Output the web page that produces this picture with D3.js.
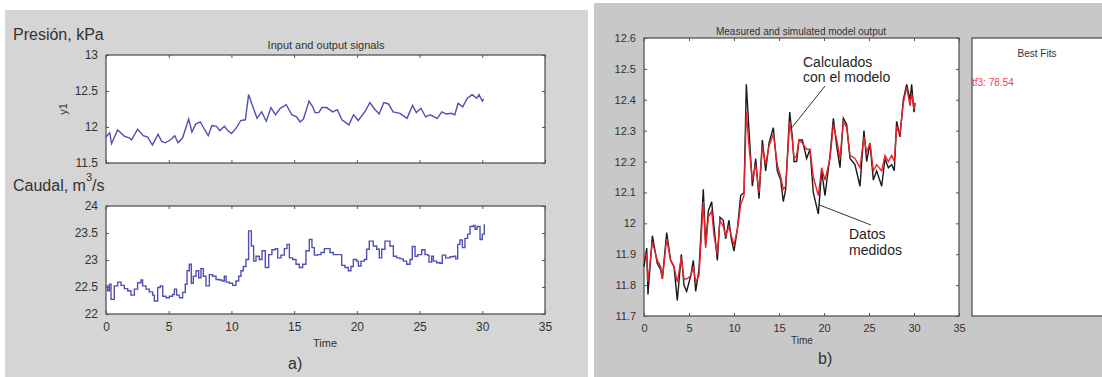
<!DOCTYPE html>
<html>
<head>
<meta charset="utf-8">
<script src="https://cdn.jsdelivr.net/npm/d3@7"></script>
<style>
body{margin:0;background:#fff}
svg{display:block;font-family:Arial,"Liberation Sans",sans-serif}
</style>
</head>
<body>
<div class="graph"></div>
<script>
// pressure y1 : time, measured, simulated (tf3)
const tP = [0.00,0.30,0.44,0.93,1.48,1.85,2.04,2.52,2.96,3.33,3.70,4.15,4.44,4.74,5.19,5.48,5.74,6.11,6.59,6.85,
  7.15,7.52,7.78,8.15,8.44,8.81,9.07,9.44,9.70,10.00,10.37,10.74,11.11,11.37,11.67,12.04,12.41,12.78,13.15,13.52,
  13.89,14.37,14.81,15.19,15.48,15.74,16.19,16.48,16.67,16.96,17.22,17.59,18.07,18.44,18.81,19.37,19.74,20.11,20.67,21.04,
  21.41,21.78,22.15,22.52,22.89,23.44,24.00,24.44,24.74,25.11,25.48,25.85,26.41,26.78,27.15,27.52,27.81,28.07,28.44,28.81,
  29.19,29.56,29.74,30.00,30.11]
const yMed = [11.86,11.92,11.77,11.96,11.87,11.85,11.82,11.97,11.88,11.86,11.75,11.90,11.80,11.78,11.83,11.88,11.78,11.85,12.11,11.93,
  12.04,12.07,11.99,11.88,12.02,12.01,11.95,12.01,11.95,11.91,11.98,12.09,12.10,12.45,12.30,12.12,12.21,12.08,12.27,12.17,
  12.26,12.31,12.17,12.14,12.07,12.11,12.36,12.28,12.20,12.20,12.27,12.27,12.21,12.24,12.10,12.03,12.17,12.09,12.22,12.34,
  12.25,12.18,12.34,12.32,12.21,12.19,12.12,12.30,12.20,12.26,12.14,12.17,12.12,12.21,12.18,12.19,12.17,12.33,12.28,12.40,
  12.45,12.40,12.45,12.36,12.39]
const ySim = [11.89,11.90,11.81,11.94,11.88,11.86,11.82,11.95,11.88,11.86,11.81,11.89,11.82,11.82,11.83,11.86,11.81,11.83,12.07,11.92,
  12.02,12.04,11.96,11.90,12.01,11.99,11.96,11.99,11.96,11.93,11.98,12.06,12.09,12.36,12.25,12.14,12.19,12.10,12.25,12.19,
  12.25,12.29,12.19,12.15,12.11,12.12,12.33,12.27,12.21,12.22,12.27,12.26,12.24,12.24,12.15,12.09,12.18,12.14,12.21,12.32,
  12.27,12.21,12.33,12.31,12.22,12.21,12.18,12.28,12.23,12.26,12.17,12.19,12.17,12.22,12.20,12.22,12.20,12.31,12.29,12.39,
  12.44,12.38,12.42,12.37,12.39]

// caudal u1 (zero order hold)
const tQ = [0.00,0.13,0.27,0.40,0.66,0.93,1.20,1.46,1.73,1.99,2.26,2.52,2.79,2.92,3.19,3.45,3.72,3.85,4.12,4.33,
  4.52,4.78,5.05,5.31,5.45,5.63,5.85,6.11,6.32,6.46,6.64,6.80,6.96,7.18,7.39,7.57,7.76,7.97,8.24,8.50,
  8.77,9.04,9.25,9.43,9.57,9.83,10.10,10.36,10.58,10.76,10.95,11.16,11.37,11.59,11.77,11.96,12.22,12.44,12.70,12.97,
  13.23,13.50,13.69,13.95,14.22,14.43,14.62,14.88,15.15,15.41,15.68,15.94,16.21,16.42,16.61,16.87,17.14,17.41,17.86,18.12,
  18.79,19.05,19.32,19.53,19.72,19.98,20.12,20.33,20.60,20.78,20.99,21.31,21.58,21.79,21.98,22.24,22.64,22.91,23.17,23.44,
  23.70,23.97,24.24,24.42,24.64,24.85,25.17,25.43,25.64,25.75,25.96,26.10,26.36,26.63,26.81,27.08,27.43,27.69,27.88,28.04,
  28.22,28.41,28.62,28.83,29.02,29.29,29.42,29.58,29.82,30.00,30.16]
const uQ = [22.52,22.43,22.55,22.27,22.52,22.59,22.53,22.47,22.43,22.35,22.46,22.58,22.63,22.52,22.46,22.41,22.35,22.24,22.49,22.52,
  22.33,22.30,22.33,22.36,22.46,22.35,22.30,22.40,22.55,22.80,22.92,22.57,22.70,22.80,22.67,22.84,22.70,22.52,22.73,22.70,
  22.64,22.63,22.61,22.70,22.59,22.57,22.53,22.61,22.70,22.80,22.88,23.01,23.54,23.26,22.98,23.07,23.01,23.17,22.86,23.10,
  23.19,23.21,23.04,23.09,23.21,23.29,23.04,23.01,22.92,22.86,22.92,23.17,23.38,23.23,23.09,23.10,23.14,23.21,23.14,23.10,
  22.90,22.86,22.80,22.88,23.01,22.98,22.89,22.98,23.01,23.20,23.35,23.26,23.20,23.04,23.20,23.35,23.26,23.07,23.04,23.02,
  22.98,22.92,23.01,23.25,23.07,23.10,23.19,23.10,23.09,22.96,23.07,22.98,22.95,22.94,23.09,23.04,23.06,23.07,23.02,23.29,
  23.37,23.23,23.40,23.48,23.62,23.64,23.57,23.62,23.38,23.48,23.66]

const xTicks = [0,5,10,15,20,25,30,35]
const yTicksP = [11.5,12,12.5,13]
const yTicksQ = [22,22.5,23,23.5,24]
const yTicksB = [11.7,11.8,11.9,12,12.1,12.2,12.3,12.4,12.5,12.6]

const W = 1102, H = 377
const svg = d3.select(".graph").append("svg").attr("width", W).attr("height", H)

// figure backgrounds
svg.append("rect").attr("x", 5).attr("y", 10).attr("width", 583).attr("height", H - 10).style("fill", "#d5d5d5")
svg.append("rect").attr("x", 594).attr("y", 3).attr("width", W - 594).attr("height", H - 3).style("fill", "#c8c8c8")

// draws a matlab style box with inward ticks on all sides
function box(x, y, xt, yt, labelsX, fs) {
  const [x0, x1] = x.range(), [y0, y1] = y.range()
  svg.append("rect").attr("x", x0).attr("y", y1).attr("width", x1 - x0).attr("height", y0 - y1).style("fill", "#fff")
  const axes = [
    [d3.axisBottom(x).tickValues(xt).tickFormat(labelsX ? d => String(d) : ""), `translate(0,${y0})`],
    [d3.axisTop(x).tickValues(xt).tickFormat(""), `translate(0,${y1})`],
    [d3.axisLeft(y).tickValues(yt).tickFormat(d => String(d)), `translate(${x0},0)`],
    [d3.axisRight(y).tickValues(yt).tickFormat(""), `translate(${x1},0)`]
  ]
  axes.forEach(a => {
    const g = svg.append("g").attr("transform", a[1])
      .call(a[0].tickSizeInner(-3).tickSizeOuter(0).tickPadding(8))
    g.select(".domain").remove()
    g.selectAll("line").style("stroke", "#555")
    g.selectAll("text").style("font-family", "Arial, 'Liberation Sans', sans-serif")
      .style("font-size", fs + "px").style("fill", "#333")
  })
  svg.append("rect").attr("x", x0).attr("y", y1).attr("width", x1 - x0).attr("height", y0 - y1)
    .style("fill", "none").style("stroke", "#555").style("stroke-width", 1.3)
}

function txt(x, y, s, fs, opts) {
  opts = opts || {}
  return svg.append("text").attr("x", x).attr("y", y).text(s)
    .style("font-size", fs + "px").style("fill", opts.fill || "#333")
    .attr("text-anchor", opts.anchor || "start")
}

// ---- a) input and output signals
const xa = d3.scaleLinear().domain([0, 35]).range([106, 545])
const yTop = d3.scaleLinear().domain([11.5, 13]).range([163, 55])
const yBot = d3.scaleLinear().domain([22, 24]).range([314, 206])

box(xa, yTop, xTicks, yTicksP, false, 12)
box(xa, yBot, xTicks, yTicksQ, true, 12)

const linePa = d3.line().x(d => xa(d[0])).y(d => yTop(d[1]))
svg.append("path").datum(tP.map((t, i) => [t, yMed[i]])).attr("d", linePa)
  .style("fill", "none").style("stroke", "#5050b4").style("stroke-width", 1.4)

const lineQ = d3.line().x(d => xa(d[0])).y(d => yBot(d[1])).curve(d3.curveStepAfter)
svg.append("path").datum(tQ.map((t, i) => [t, uQ[i]])).attr("d", lineQ)
  .style("fill", "none").style("stroke", "#5050b4").style("stroke-width", 1.4)

txt(326, 49, "Input and output signals", 11, {anchor: "middle"})
txt(13, 40, "Presión, kPa", 16)
const cau = txt(13, 191, "Caudal, m", 16)
cau.append("tspan").attr("dy", -10).style("font-size", "11px").text("3")
cau.append("tspan").attr("dy", 10).text("/s")
svg.append("text").attr("transform", "translate(67,109) rotate(-90)").attr("text-anchor", "middle")
  .text("y1").style("font-size", "11px").style("fill", "#333")
txt(325, 347, "Time", 11, {anchor: "middle"})
txt(288, 369, "a)", 16)

// ---- b) measured and simulated model output
const xb = d3.scaleLinear().domain([0, 35]).range([644, 959])
const yb = d3.scaleLinear().domain([11.7, 12.6]).range([316, 38])
box(xb, yb, xTicks, yTicksB, true, 11)

const lineMed = d3.line().x(d => xb(d[0])).y(d => yb(d[1]))
svg.append("path").datum(tP.map((t, i) => [t, yMed[i]])).attr("d", lineMed)
  .style("fill", "none").style("stroke", "#1a1a1a").style("stroke-width", 1.4)
svg.append("path").datum(tP.map((t, i) => [t, ySim[i]])).attr("d", lineMed)
  .style("fill", "none").style("stroke", "#e8222c").style("stroke-width", 1.4)

txt(801, 35, "Measured and simulated model output", 10, {anchor: "middle"})
txt(802, 344, "Time", 10, {anchor: "middle"})
txt(818, 364, "b)", 16)

// annotations
txt(803, 67, "Calculados", 14, {fill: "#1e1e1e"})
txt(803, 82, "con el modelo", 14, {fill: "#1e1e1e"})
svg.append("line").attr("x1", 825).attr("y1", 86).attr("x2", xb(16.44)).attr("y2", yb(12.31))
  .style("stroke", "#333").style("stroke-width", 1)
txt(849, 239, "Datos", 14, {fill: "#1e1e1e"})
txt(849, 255, "medidos", 14, {fill: "#1e1e1e"})
svg.append("line").attr("x1", 871).attr("y1", 225).attr("x2", xb(19.44)).attr("y2", yb(12.06))
  .style("stroke", "#333").style("stroke-width", 1)

// best fits panel
svg.append("rect").attr("x", 972).attr("y", 38).attr("width", 140).attr("height", 278)
  .style("fill", "#fff").style("stroke", "#555").style("stroke-width", 1.3)
txt(1037, 57, "Best Fits", 10, {anchor: "middle"})
txt(972, 86, "tf3: 78.54", 10, {fill: "#e8424a"})
</script>
</body>
</html>
